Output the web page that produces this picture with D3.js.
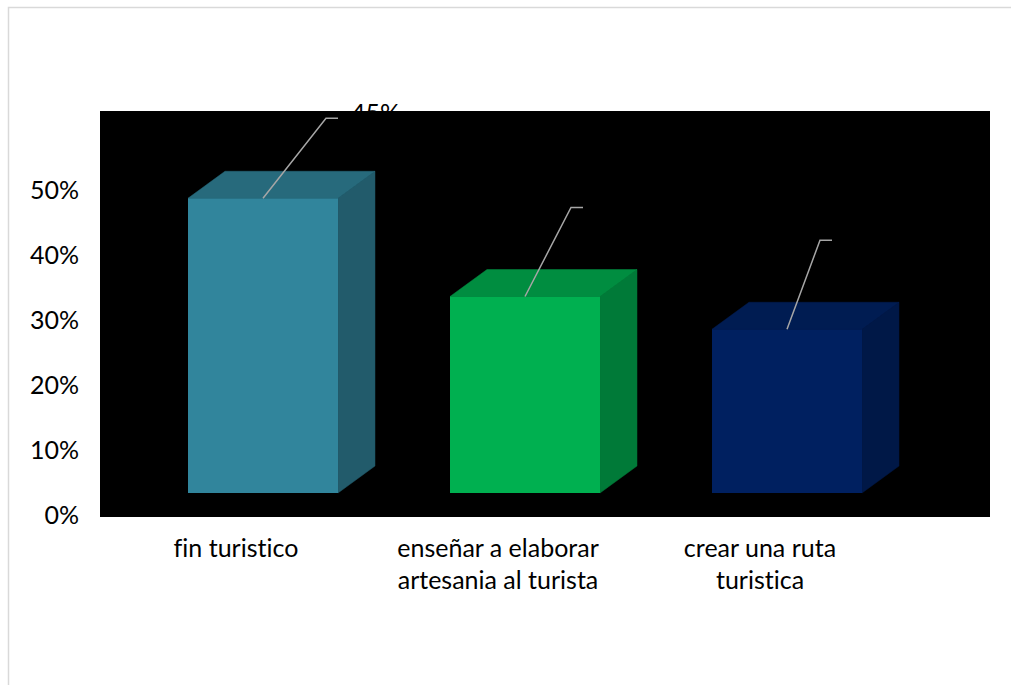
<!DOCTYPE html>
<html>
<head>
<meta charset="utf-8">
<script src="https://cdn.jsdelivr.net/npm/d3@7"></script>
<style>
  html, body { margin: 0; padding: 0; background: #ffffff; }
  svg { display: block; }
  text { font-family: Lato, "Open Sans", "Liberation Sans", sans-serif; font-variant-ligatures: none; }
</style>
</head>
<body>
<svg id="chart" width="1011" height="685"></svg>
<script>
// Chart data
const categories = [
  ["fin turistico"],
  ["enseñar a elaborar", "artesania al turista"],
  ["crear una ruta", "turistica"]
];
const values = [0.45, 0.30, 0.25];
const valueLabels = ["45%", "30%", "25%"];
const yTicks = [0, 0.1, 0.2, 0.3, 0.4, 0.5];

// Face colours for each bar: front, top, side
const frontColors = ["#31859c", "#00b050", "#002060"];
const topColors   = ["#276a7c", "#008d40", "#001c52"];
const sideColors  = ["#225b6b", "#007a38", "#001847"];

const plot = { left: 100, top: 111, right: 990, bottom: 517 };
const depth = { dx: 37, dy: 27 };
const FONT_SIZE = 25;

const svg = d3.select("#chart");

// Outer chart border
svg.append("rect")
  .attr("x", 8.5).attr("y", 7.5)
  .attr("width", 1020).attr("height", 700)
  .attr("fill", "#ffffff")
  .attr("stroke", "#d9d9d9")
  .attr("stroke-width", 1.5);

// Black plot area
svg.append("rect")
  .attr("x", plot.left).attr("y", plot.top)
  .attr("width", plot.right - plot.left)
  .attr("height", plot.bottom - plot.top)
  .attr("fill", "#000000");

// Scales
const keys = categories.map((c, i) => i);
const x = d3.scaleBand()
  .domain(keys)
  .range([132, 918])
  .paddingInner(0.4275)
  .paddingOuter(0.21375);

// Axis scale (value labels) and front-face scale (bars sit forward of the back wall)
const yAxisScale = d3.scaleLinear().domain([0, 0.5]).range([515, 190]);
const yFront = d3.scaleLinear().domain([0, 0.5]).range([493, 165.5]);

// Y axis
const yAxis = d3.axisLeft(yAxisScale)
  .tickValues(yTicks)
  .tickFormat(d3.format(".0%"))
  .tickSize(0)
  .tickPadding(0);

const gy = svg.append("g")
  .attr("transform", "translate(79,0)")
  .call(yAxis);
gy.select(".domain").remove();
gy.selectAll("text")
  .attr("fill", "#000000")
  .attr("font-size", FONT_SIZE)
  .attr("dy", "0.35em")
  .style("font-family", "Lato, 'Open Sans', sans-serif");

// 3D bars
const bars = svg.append("g");
values.forEach((v, i) => {
  const x0 = x(i), x1 = x(i) + x.bandwidth();
  const yT = yFront(v), yB = yFront(0);
  const dx = depth.dx, dy = depth.dy;
  // side face
  bars.append("path")
    .attr("d", `M${x1},${yT} L${x1 + dx},${yT - dy} L${x1 + dx},${yB - dy} L${x1},${yB} Z`)
    .attr("fill", sideColors[i])
    .attr("stroke", sideColors[i]).attr("stroke-width", 0.5);
  // top face
  bars.append("path")
    .attr("d", `M${x0},${yT} L${x0 + dx},${yT - dy} L${x1 + dx},${yT - dy} L${x1},${yT} Z`)
    .attr("fill", topColors[i])
    .attr("stroke", topColors[i]).attr("stroke-width", 0.5);
  // front face
  bars.append("rect")
    .attr("x", x0).attr("y", yT)
    .attr("width", x.bandwidth()).attr("height", yB - yT)
    .attr("fill", frontColors[i]);
});

// Data labels with leader lines (offsets relative to the front-top centre of each bar)
const leaderOffsets = [[63, -80], [46, -89], [33, -89]];
const labels = svg.append("g");
values.forEach((v, i) => {
  const sx = x(i) + x.bandwidth() / 2;
  const sy = yFront(v);
  const kx = sx + leaderOffsets[i][0];
  const ky = sy + leaderOffsets[i][1];
  labels.append("polyline")
    .attr("points", `${sx},${sy} ${kx},${ky} ${kx + 12},${ky}`)
    .attr("fill", "none")
    .attr("stroke", "#a6a6a6")
    .attr("stroke-width", 1.5);
  labels.append("text")
    .attr("x", kx + 25).attr("y", ky + 4)
    .attr("font-size", FONT_SIZE)
    .attr("fill", "#000000")
    .text(valueLabels[i]);
});

// Category labels
const catG = svg.append("g");
categories.forEach((lines, i) => {
  const cx = x(i) + x.bandwidth() / 2 - 27;
  const t = catG.append("text")
    .attr("text-anchor", "middle")
    .attr("font-size", FONT_SIZE)
    .attr("fill", "#000000");
  lines.forEach((ln, j) => {
    t.append("tspan")
      .attr("x", cx)
      .attr("y", 557 + j * 31.5)
      .text(ln);
  });
});
</script>
</body>
</html>
